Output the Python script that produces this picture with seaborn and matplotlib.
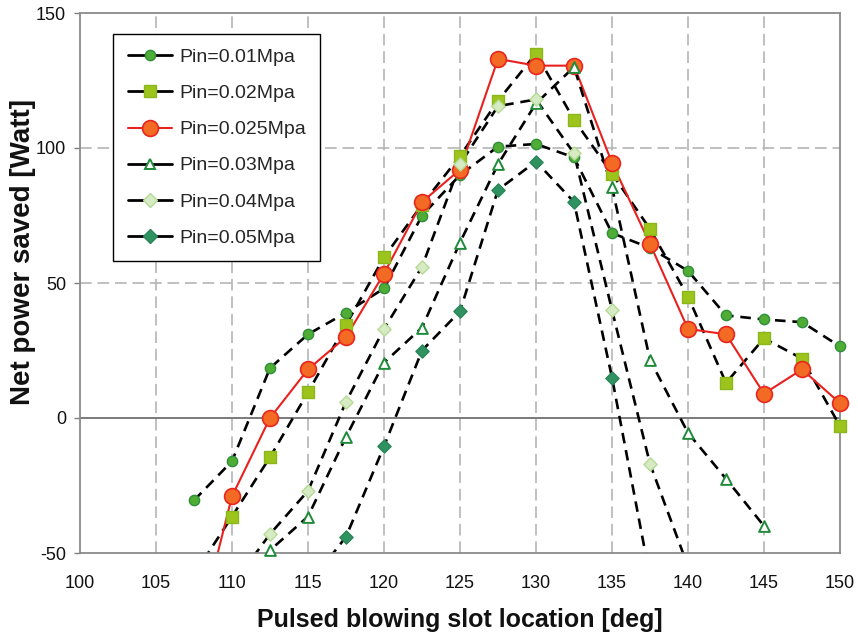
import matplotlib
matplotlib.use("Agg")
import matplotlib.pyplot as plt
from matplotlib.lines import Line2D
import pandas as pd
import seaborn as sns

# ---------------- data ----------------
labels = ["Pin=0.01Mpa", "Pin=0.02Mpa", "Pin=0.025Mpa",
          "Pin=0.03Mpa", "Pin=0.04Mpa", "Pin=0.05Mpa"]

x_001 = [107.5, 110, 112.5, 115, 117.5, 120, 122.5, 125, 127.5, 130,
         132.5, 135, 137.5, 140, 142.5, 145, 147.5, 150]
y_001 = [-30.5, -16, 18.5, 31, 39, 48, 75, 90, 100.5, 101.5,
         96.5, 68.5, 63, 54.5, 38, 36.5, 35.5, 26.5]

x_002 = [107.5, 110, 112.5, 115, 117.5, 120, 122.5, 125, 127.5, 130,
         132.5, 135, 137.5, 140, 142.5, 145, 147.5, 150]
y_002 = [-58, -36.5, -14.5, 9.5, 34.5, 59.5, 79, 97, 117.5, 135,
         110.5, 90.5, 70, 45, 13, 29.5, 22, -3]

x_0025 = [107.5, 110, 112.5, 115, 117.5, 120, 122.5, 125, 127.5, 130,
          132.5, 135, 137.5, 140, 142.5, 145, 147.5, 150]
y_0025 = [-85, -29, 0, 18, 30, 53.5, 80, 92, 133, 130.5,
          130.5, 94.5, 64.5, 33, 31, 9, 18, 5.5]

x_003 = [110, 112.5, 115, 117.5, 120, 122.5, 125, 127.5, 130, 132.5,
         135, 137.5, 140, 142.5, 145]
y_003 = [-75, -49, -36.5, -7, 20.5, 33.5, 65, 94, 116.5, 130,
         85.5, 21.5, -5.5, -22.5, -40]

x_004 = [110, 112.5, 115, 117.5, 120, 122.5, 125, 127.5, 130, 132.5,
         135, 137.5, 140]
y_004 = [-62, -43, -27, 6, 33, 56, 94, 115.5, 118, 98,
         40, -17, -55]

x_005 = [115, 117.5, 120, 122.5, 125, 127.5, 130, 132.5, 135, 137.5]
y_005 = [-62, -44, -10.5, 25, 39.5, 84.5, 95, 80, 15, -59]

x_ticks = [100, 105, 110, 115, 120, 125, 130, 135, 140, 145, 150]
y_ticks = [-50, 0, 50, 100, 150]

series_x = [x_001, x_002, x_0025, x_003, x_004, x_005]
series_y = [y_001, y_002, y_0025, y_003, y_004, y_005]

# ---------------- styles ----------------
DASH = (0, (4, 2.6))
styles = [
    dict(marker="o", s=55, face="#4fac34", edge="#2f8f3a", mew=1.0, lc="black", ls=DASH, lw=1.9),
    dict(marker="s", s=78, face="#9cc41c", edge="#8ab81c", mew=1.0, lc="black", ls=DASH, lw=1.9),
    dict(marker="o", s=130, face="#f26a24", edge="#e8261e", mew=1.2, lc="#e8211f", ls="-", lw=1.5),
    dict(marker="^", s=60, face="white", edge="#1f8a3a", mew=1.4, lc="black", ls=DASH, lw=1.9),
    dict(marker="D", s=45, face="#d6ebc4", edge="#b5da95", mew=1.0, lc="black", ls=DASH, lw=1.9),
    dict(marker="D", s=45, face="#2e9360", edge="#2a8457", mew=1.0, lc="black", ls=DASH, lw=1.9),
]

sns.set_theme(style="white")
plt.rcParams["font.family"] = ["Liberation Sans", "DejaVu Sans"]

W, H = 858, 640
fig = plt.figure(figsize=(W / 100, H / 100), dpi=100)
ax = fig.add_axes([80 / W, 1 - 553 / H, 760 / W, 540 / H])

ymin, ymax = -50, 150
ax.set_xlim(100, 150)
ax.set_ylim(ymin, ymax)

# grid
for xv in x_ticks[1:-1]:
    ax.axvline(xv, color="#b5b5b5", lw=1.2, ls=(0, (7, 3.5)), zorder=0)
for yv in [50, 100]:
    ax.axhline(yv, color="#b5b5b5", lw=1.2, ls=(0, (7, 3.5)), zorder=0)
ax.axhline(0, color="#707070", lw=1.3, zorder=0.5)

handles = []
for i, (xs, ys, st, lab) in enumerate(zip(series_x, series_y, styles, labels)):
    df = pd.DataFrame({"x": xs, "y": ys})
    sns.lineplot(data=df, x="x", y="y", ax=ax, color=st["lc"], linestyle=st["ls"],
                 linewidth=st["lw"], estimator=None, sort=False, zorder=2 + i * 0.1)
    vis = df[(df["y"] >= ymin) & (df["y"] <= ymax)]
    sns.scatterplot(data=vis, x="x", y="y", ax=ax, marker=st["marker"], s=st["s"],
                    color=st["face"], edgecolor=st["edge"], linewidth=st["mew"],
                    clip_on=False, zorder=3 + i * 0.1, legend=False)
    handles.append(Line2D([0], [0], color=st["lc"], lw=2.0 if st["lc"] == "black" else 1.5,
                          marker=st["marker"], markersize=(st["s"] ** 0.5),
                          markerfacecolor=st["face"], markeredgecolor=st["edge"],
                          markeredgewidth=st["mew"], label=lab))

ax.set_xticks(x_ticks)
ax.set_yticks(y_ticks)
ax.set_xticklabels([str(v) for v in x_ticks])
ax.set_yticklabels([str(v) for v in y_ticks])
ax.tick_params(axis="x", length=0, pad=16, labelsize=13, colors="#111111")
ax.tick_params(axis="y", length=4, width=1.0, color="#808080", pad=6, labelsize=13,
               labelcolor="#111111", left=True)

for sp in ax.spines.values():
    sp.set_color("#8a8a8a")
    sp.set_linewidth(1.3)

ax.set_xlabel("Pulsed blowing slot location [deg]", fontsize=18, fontweight="bold",
              color="#111111")
ax.set_ylabel("Net power saved [Watt]", fontsize=20, fontweight="bold", color="#111111")
ax.xaxis.set_label_coords(0.5, -(608 - 553) / 540)
ax.yaxis.set_label_coords(-(80 - 36) / 760, (553 - 252) / 540)

leg = ax.legend(handles=handles, loc="upper left",
                bbox_to_anchor=((113 - 80) / 760, (553 - 34) / 540),
                fontsize=14, frameon=True, fancybox=False, edgecolor="black",
                framealpha=1, borderpad=0.75, labelspacing=0.95, handlelength=2.3,
                handletextpad=0.35, borderaxespad=0)
leg.get_frame().set_linewidth(1.0)

fig.savefig("out.png", dpi=100)
